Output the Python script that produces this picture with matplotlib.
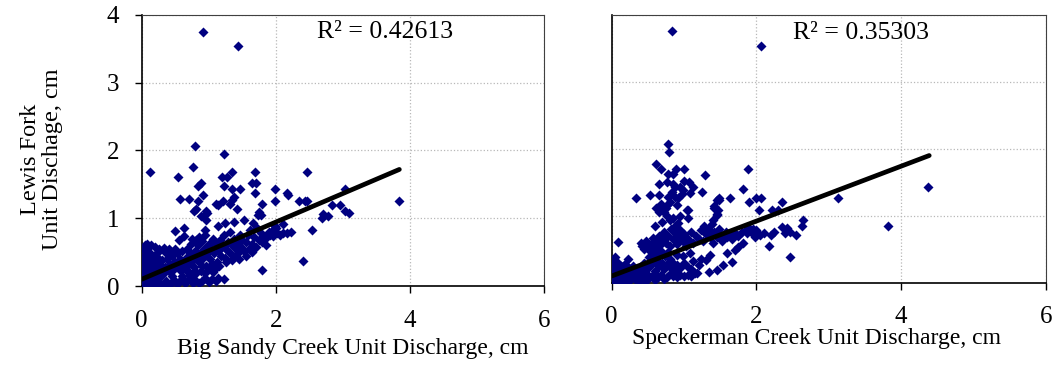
import numpy as np
import matplotlib
matplotlib.use("Agg")
import matplotlib.pyplot as plt

plt.rcParams['font.family'] = ['Liberation Serif', 'DejaVu Serif']

# Big Sandy Creek (x) vs Lewis Fork (y), unit discharge in cm
big_sandy_pts = [
    (0.91, 3.75), (1.43, 3.54), (0.80, 2.06), (1.23, 1.95), (0.12, 1.69), (0.76, 1.76),
    (0.54, 1.61), (1.20, 1.61), (1.27, 1.61), (1.34, 1.69), (1.69, 1.69), (2.47, 1.69),
    (0.84, 1.48), (0.88, 1.52), (1.23, 1.48), (1.65, 1.52), (1.71, 1.52), (1.35, 1.43),
    (1.46, 1.43), (1.69, 1.38), (1.99, 1.43), (2.16, 1.38), (2.18, 1.34), (0.91, 1.34),
    (0.57, 1.29), (0.71, 1.29), (0.84, 1.26), (1.21, 1.26), (1.38, 1.32), (1.34, 1.27),
    (1.31, 1.21), (1.10, 1.21), (1.13, 1.19), (1.80, 1.21), (1.98, 1.26), (2.35, 1.26),
    (2.44, 1.26), (2.47, 1.26), (1.42, 1.14), (0.78, 1.11), (0.81, 1.14), (0.96, 1.11),
    (0.98, 1.08), (0.88, 1.04), (0.96, 0.97), (1.75, 1.09), (1.73, 1.05), (3.03, 1.43),
    (2.84, 1.19), (2.95, 1.20), (2.70, 1.07), (2.68, 1.01), (2.78, 1.04), (3.03, 1.10),
    (3.09, 1.08), (3.83, 1.26), (2.54, 0.83), (2.40, 0.37), (1.80, 0.24), (1.85, 0.60),
    (1.99, 0.85), (2.11, 0.91), (2.11, 0.78), (2.16, 0.78), (2.23, 0.80), (2.06, 0.75),
    (1.91, 0.75), (1.87, 0.72), (1.96, 0.83), (0.49, 0.81), (0.63, 0.85), (0.63, 0.74),
    (0.55, 0.68), (0.81, 0.68), (0.94, 0.83), (1.14, 0.88), (1.24, 0.93), (1.38, 0.95),
    (1.53, 0.97), (1.66, 0.93), (1.78, 1.05), (1.98, 0.88), (1.95, 0.74),
    # cluster near the origin
    (0.01, 0.02), (0.02, 0.08), (0.03, 0.15), (0.01, 0.22), (0.02, 0.30), (0.04, 0.38),
    (0.03, 0.45), (0.05, 0.05), (0.06, 0.12), (0.07, 0.20), (0.06, 0.28), (0.08, 0.35),
    (0.07, 0.42), (0.09, 0.50), (0.10, 0.03), (0.11, 0.10), (0.12, 0.18), (0.11, 0.26),
    (0.13, 0.33), (0.12, 0.40), (0.14, 0.47), (0.15, 0.06), (0.16, 0.14), (0.17, 0.22),
    (0.18, 0.30), (0.17, 0.38), (0.19, 0.45), (0.20, 0.02), (0.21, 0.09), (0.22, 0.17),
    (0.23, 0.25), (0.22, 0.34), (0.24, 0.42), (0.25, 0.50), (0.26, 0.05), (0.27, 0.13),
    (0.28, 0.21), (0.29, 0.30), (0.30, 0.38), (0.02, 0.55), (0.05, 0.60), (0.10, 0.58),
    (0.14, 0.60), (0.08, 0.62), (0.20, 0.57), (0.26, 0.55), (0.33, 0.56), (0.40, 0.55),
    (0.35, 0.50), (0.42, 0.46), (0.47, 0.50),
    # strip along the bottom
    (0.32, 0.03), (0.36, 0.07), (0.40, 0.02), (0.44, 0.05), (0.48, 0.09), (0.52, 0.03),
    (0.56, 0.06), (0.60, 0.10), (0.64, 0.04), (0.68, 0.08), (0.72, 0.12), (0.76, 0.05),
    (0.80, 0.09), (0.85, 0.04), (0.90, 0.08), (0.95, 0.12), (1.00, 0.06), (1.05, 0.10),
    (1.10, 0.07), (1.14, 0.12), (1.22, 0.11), (0.60, 0.15), (0.70, 0.16), (0.80, 0.18),
    (0.88, 0.22), (0.94, 0.19), (1.00, 0.26), (1.06, 0.20), (1.12, 0.28),
    # main band
    (0.32, 0.18), (0.35, 0.28), (0.38, 0.40), (0.40, 0.22), (0.42, 0.33), (0.45, 0.45),
    (0.48, 0.25), (0.50, 0.36), (0.52, 0.48), (0.55, 0.30), (0.57, 0.40), (0.60, 0.52),
    (0.62, 0.34), (0.58, 0.22), (0.45, 0.15), (0.36, 0.50), (0.50, 0.55),
    (0.65, 0.25), (0.66, 0.42), (0.68, 0.55), (0.70, 0.32), (0.72, 0.48), (0.74, 0.62),
    (0.76, 0.38), (0.78, 0.28), (0.80, 0.52), (0.82, 0.44), (0.84, 0.60), (0.86, 0.35),
    (0.88, 0.50), (0.90, 0.66), (0.92, 0.42), (0.94, 0.56), (0.96, 0.30), (0.98, 0.48),
    (1.00, 0.62), (0.75, 0.70), (0.85, 0.72), (0.95, 0.75), (0.70, 0.20), (0.80, 0.22),
    (0.90, 0.30),
    (1.02, 0.40), (1.04, 0.55), (1.06, 0.70), (1.08, 0.48), (1.10, 0.62), (1.12, 0.36),
    (1.14, 0.52), (1.16, 0.68), (1.18, 0.45), (1.20, 0.58), (1.22, 0.75), (1.24, 0.42),
    (1.26, 0.55), (1.28, 0.65), (1.30, 0.50), (1.32, 0.80), (1.34, 0.60), (1.36, 0.45),
    (1.38, 0.70), (1.40, 0.55), (1.42, 0.62), (1.44, 0.48), (1.46, 0.75), (1.48, 0.58),
    (1.50, 0.68), (1.15, 0.30), (1.25, 0.35), (1.05, 0.32), (1.35, 0.38), (1.45, 0.40),
    (1.52, 0.52), (1.55, 0.65), (1.58, 0.75), (1.60, 0.55), (1.62, 0.82), (1.65, 0.62),
    (1.68, 0.72), (1.70, 0.58), (1.72, 0.85), (1.75, 0.68), (1.78, 0.78), (1.80, 0.65),
    (1.82, 0.72), (1.55, 0.45), (1.65, 0.50), (1.90, 0.80), (1.95, 0.75), (2.00, 0.85),
    (2.02, 0.78),
]

# Speckerman Creek (x) vs Lewis Fork (y)
speckerman_pts = [
    (0.83, 3.76), (2.06, 3.54), (0.78, 2.07), (0.79, 1.96), (0.61, 1.77), (0.68, 1.70),
    (0.89, 1.70), (1.00, 1.70), (1.89, 1.70), (1.29, 1.61), (0.78, 1.62), (0.85, 1.62),
    (0.76, 1.51), (1.00, 1.52), (1.07, 1.51), (0.85, 1.48), (0.94, 1.43), (0.65, 1.48),
    (1.12, 1.43), (1.08, 1.34), (0.99, 1.38), (0.97, 1.33), (1.81, 1.40), (1.25, 1.35),
    (0.33, 1.26), (0.53, 1.31), (0.65, 1.31), (0.88, 1.28), (0.91, 1.26), (0.81, 1.21),
    (0.78, 1.17), (0.75, 1.12), (0.90, 1.16), (0.61, 1.11), (0.65, 1.06), (0.69, 1.08),
    (1.06, 1.09), (1.45, 1.23), (1.48, 1.26), (1.63, 1.26), (1.90, 1.20), (1.99, 1.26),
    (2.07, 1.26), (2.35, 1.20), (2.03, 1.09), (2.21, 1.09), (2.30, 1.09), (1.41, 1.11),
    (1.45, 1.03), (3.13, 1.26), (4.38, 1.43), (3.82, 0.85), (2.65, 0.93), (2.63, 0.84),
    (2.55, 0.71), (2.46, 0.38), (2.17, 0.55), (2.35, 0.83), (2.42, 0.81), (2.47, 0.76),
    (2.40, 0.74), (2.24, 0.76), (2.20, 0.71), (2.10, 0.74), (2.05, 0.71), (2.01, 0.74),
    (1.96, 0.76), (1.91, 0.79), (1.94, 0.74), (1.98, 0.68), (1.87, 0.74), (1.82, 0.60),
    (1.74, 0.54), (1.71, 0.49), (1.66, 0.31), (1.59, 0.44), (1.54, 0.26), (1.46, 0.19),
    (1.36, 0.41), (1.31, 0.34), (1.24, 0.36), (1.20, 0.26), (1.18, 0.14), (1.34, 0.16),
    (0.08, 0.61), (0.23, 0.36), (0.05, 0.39),
    # cluster near the origin
    (0.01, 0.02), (0.02, 0.10), (0.03, 0.18), (0.02, 0.26), (0.04, 0.33), (0.05, 0.05),
    (0.06, 0.14), (0.07, 0.22), (0.08, 0.30), (0.10, 0.02), (0.11, 0.09), (0.12, 0.17),
    (0.13, 0.25), (0.15, 0.05), (0.16, 0.12), (0.17, 0.20), (0.18, 0.28), (0.20, 0.02),
    (0.21, 0.08), (0.22, 0.15), (0.24, 0.22), (0.25, 0.04), (0.27, 0.10), (0.28, 0.18),
    (0.30, 0.25), (0.32, 0.06), (0.33, 0.14), (0.35, 0.20), (0.04, 0.00), (0.09, 0.00),
    (0.14, 0.01),
    # strip along the bottom
    (0.38, 0.03), (0.42, 0.08), (0.46, 0.02), (0.50, 0.06), (0.55, 0.10), (0.60, 0.04),
    (0.64, 0.08), (0.68, 0.12), (0.72, 0.05), (0.76, 0.09), (0.80, 0.13), (0.85, 0.10),
    (0.90, 0.08), (0.95, 0.12), (1.00, 0.10), (1.05, 0.12), (1.10, 0.10), (1.15, 0.14),
    (0.40, 0.12), (0.48, 0.15),
    # main band, lower part
    (0.40, 0.20), (0.45, 0.30), (0.50, 0.22), (0.52, 0.38), (0.55, 0.28), (0.58, 0.45),
    (0.60, 0.18), (0.62, 0.34), (0.65, 0.25), (0.66, 0.42), (0.70, 0.30), (0.72, 0.20),
    (0.74, 0.40), (0.76, 0.28), (0.80, 0.36), (0.82, 0.22), (0.85, 0.30), (0.88, 0.18),
    (0.90, 0.26), (0.95, 0.22), (1.00, 0.30), (1.05, 0.24), (1.10, 0.20), (1.12, 0.32),
    (0.68, 0.48), (0.78, 0.46), (0.90, 0.42), (0.98, 0.40), (1.08, 0.45),
    # main band, upper part
    (0.40, 0.60), (0.42, 0.55), (0.45, 0.50), (0.48, 0.62), (0.50, 0.55), (0.53, 0.48),
    (0.55, 0.60), (0.57, 0.67), (0.60, 0.52), (0.62, 0.62), (0.65, 0.70), (0.67, 0.56),
    (0.70, 0.66), (0.72, 0.76), (0.75, 0.60), (0.78, 0.70), (0.80, 0.55), (0.82, 0.80),
    (0.85, 0.65), (0.88, 0.74), (0.90, 0.58), (0.92, 0.68), (0.95, 0.78), (0.98, 0.62),
    (1.00, 0.72), (1.03, 0.55), (1.06, 0.66), (1.10, 0.75), (1.13, 0.60), (1.16, 0.70),
    (1.20, 0.65), (1.23, 0.78), (1.26, 0.62), (1.30, 0.72), (1.28, 0.84), (1.33, 0.80),
    (1.36, 0.68), (1.40, 0.60), (1.42, 0.75), (1.45, 0.68), (1.48, 0.80), (1.50, 0.72),
    (1.52, 0.62), (1.55, 0.70), (1.58, 0.76), (1.60, 0.68), (1.63, 0.72), (1.66, 0.65),
    (1.70, 0.74), (1.75, 0.70), (1.80, 0.76), (1.85, 0.78), (1.90, 0.82), (1.95, 0.80),
    (2.00, 0.78),
    # upward spike around x = 0.6-1.5
    (0.62, 1.11), (0.68, 1.18), (0.78, 1.28), (0.83, 1.35), (0.87, 1.43), (0.76, 0.99),
    (0.80, 0.94), (0.85, 0.97), (0.92, 0.89), (1.05, 0.96), (1.04, 1.08), (1.40, 0.94),
    (1.45, 1.01), (1.47, 1.08), (1.42, 1.15), (1.49, 1.23), (1.38, 0.88), (0.70, 0.90),
    (0.95, 1.00), (0.60, 0.85), (0.72, 1.05), (0.88, 0.85),
]

# linear trendlines (intercept, slope, x range) and R² as reported
fit_left = (0.10, 0.422, 0.0, 3.84)
fit_right = (0.10, 0.41, 0.0, 4.39)
r2_left = "R² = 0.42613"
r2_right = "R² = 0.35303"

xticks = [0, 2, 4, 6]
yticks = [0, 1, 2, 3, 4]

fig = plt.figure(figsize=(10.56, 3.70), dpi=100)
ax1 = fig.add_axes([0.1342, 0.227, 0.3812, 0.7325])
ax2 = fig.add_axes([0.5793, 0.236, 0.4109, 0.7235])

navy = '#000080'

def draw_panel(ax, pts, fit, r2, r2_pos, show_y):
    pts = np.array(pts)
    ax.scatter(pts[:, 0], pts[:, 1], marker='D', s=26, color=navy,
               linewidths=0, zorder=3)
    b, m, x0, x1 = fit
    xs = np.array([x0, x1])
    ax.plot(xs, b + m * xs, color='black', lw=3.4, solid_capstyle='round', zorder=4)
    ax.set_xlim(0, 6)
    ax.set_ylim(0, 4)
    ax.set_xticks(xticks)
    ax.set_yticks(yticks)
    ax.grid(True, color='#b8b8b8', linestyle=':', linewidth=0.9)
    ax.set_axisbelow(True)
    for side in ['top', 'right']:
        ax.spines[side].set_color('#404040')
        ax.spines[side].set_linewidth(0.8)
    for side in ['left', 'bottom']:
        ax.spines[side].set_color('black')
        ax.spines[side].set_linewidth(1.2)
    ax.tick_params(axis='x', direction='out', length=5, width=1, pad=12, labelsize=18)
    if show_y:
        ax.tick_params(axis='y', direction='out', length=5, width=1, pad=11, labelsize=18)
    else:
        ax.tick_params(axis='y', length=0, labelleft=False)
    ax.text(r2_pos[0], r2_pos[1], r2, fontsize=18.5, ha='left', va='center')

draw_panel(ax1, big_sandy_pts, fit_left, r2_left, (2.62, 3.75), True)
draw_panel(ax2, speckerman_pts, fit_right, r2_right, (2.51, 3.73), False)

fig.text(177 / 1056, 0.058, "Big Sandy Creek Unit Discharge, cm", fontsize=17,
         ha='left', va='center')
fig.text(632 / 1056, 0.086, "Speckerman Creek Unit Discharge, cm", fontsize=17,
         ha='left', va='center')
fig.text(0.039, 0.57, "Lewis Fork\nUnit Dischage, cm", fontsize=17.5, rotation=90,
         ha='center', va='center', multialignment='center', linespacing=1.05)

fig.savefig("out.png", dpi=100)
